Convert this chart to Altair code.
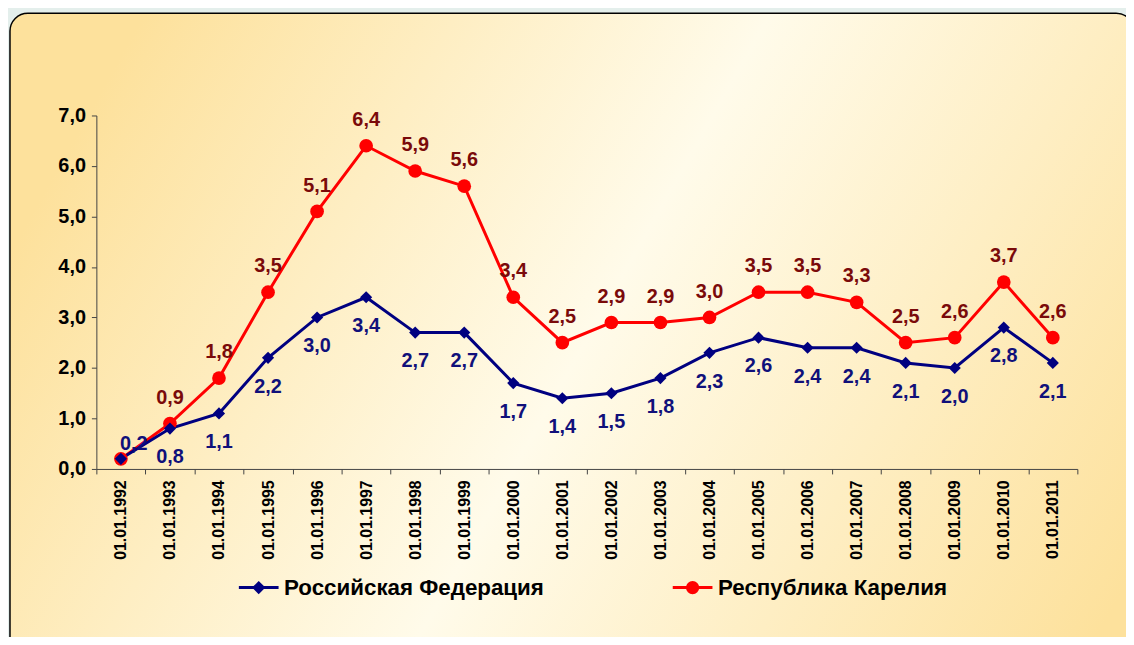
import altair as alt
import pandas as pd

years = ["01.01.1992", "01.01.1993", "01.01.1994", "01.01.1995", "01.01.1996",
         "01.01.1997", "01.01.1998", "01.01.1999", "01.01.2000", "01.01.2001",
         "01.01.2002", "01.01.2003", "01.01.2004", "01.01.2005", "01.01.2006",
         "01.01.2007", "01.01.2008", "01.01.2009", "01.01.2010", "01.01.2011"]
rf_values = [0.2, 0.8, 1.1, 2.2, 3.0, 3.4, 2.7, 2.7, 1.7, 1.4,
             1.5, 1.8, 2.3, 2.6, 2.4, 2.4, 2.1, 2.0, 2.8, 2.1]
karelia_values = [0.2, 0.9, 1.8, 3.5, 5.1, 6.4, 5.9, 5.6, 3.4, 2.5,
                  2.9, 2.9, 3.0, 3.5, 3.5, 3.3, 2.5, 2.6, 3.7, 2.6]
series_names = ["Российская Федерация", "Республика Карелия"]
y_ticks = [0, 1, 2, 3, 4, 5, 6, 7]

NAVY = "#000080"
RED = "#ff0000"
NAVY_TXT = "#10107a"
RED_TXT = "#7a0a0a"
FONT = "Liberation Sans"

rf_df = pd.DataFrame({"date": years, "value": rf_values})
ka_df = pd.DataFrame({"date": years, "value": karelia_values})
leg_df = pd.DataFrame({"series": series_names})

x_enc = alt.X("date:N", sort=years,
              scale=alt.Scale(type="band", paddingInner=0, paddingOuter=0),
              axis=alt.Axis(title=None, labelAngle=-90, labelAlign="right", labelBaseline="middle",
                            labelFont=FONT, labelFontSize=16, labelFontWeight="bold", labelColor="black",
                            tickBand="extent", tickSize=5, tickColor="#444444", domainColor="#444444",
                            labelPadding=6, grid=False, zindex=1))
y_enc = alt.Y("value:Q",
              scale=alt.Scale(domain=[0, 7], nice=False, zero=True),
              axis=alt.Axis(title=None, values=y_ticks, grid=False, tickSize=5,
                            labelExpr="replace(format(datum.value, '.1f'), '.', ',')",
                            labelFont=FONT, labelFontSize=20, labelFontWeight="bold", labelColor="black",
                            labelPadding=6, tickColor="#444444", domainColor="#444444", zindex=1))

label_expr = "replace(format(datum.value, '.1f'), '.', ',')"

panel = alt.Chart(alt.Data(values=[{"a": 1}])).mark_rect(
    cornerRadius=18, stroke="black", strokeWidth=1.5,
    fill=alt.LinearGradient(gradient="linear",
                            stops=[alt.GradientStop(color="#fde19c", offset=0),
                                   alt.GradientStop(color="#fffbea", offset=0.48),
                                   alt.GradientStop(color="#fde19c", offset=1)],
                            x1=0, y1=0.3, x2=1, y2=0.7)
).encode(x=alt.value(-87), y=alt.value(-103), x2=alt.value(1045), y2=alt.value(700))

ka_line = alt.Chart(ka_df).mark_line(color=RED, strokeWidth=3).encode(x=x_enc, y=y_enc)
rf_line = alt.Chart(rf_df).mark_line(color=NAVY, strokeWidth=3).encode(x=x_enc, y=y_enc)
rf_pts = alt.Chart(rf_df).mark_point(shape="diamond", filled=True, color=NAVY, size=150, opacity=1).encode(x=x_enc, y=y_enc)
ka_pts = alt.Chart(ka_df).mark_point(shape="circle", filled=True, color=RED, size=190, opacity=1).encode(x=x_enc, y=y_enc)

text_style = dict(font=FONT, fontSize=20, fontWeight="bold", baseline="middle", align="center")
ka_txt = alt.Chart(ka_df).transform_filter(alt.datum.date != years[0]).transform_calculate(
    lbl=label_expr).mark_text(color=RED_TXT, dy=-26, **text_style).encode(x=x_enc, y=y_enc, text="lbl:N")
rf_txt = alt.Chart(rf_df).transform_filter(alt.datum.date != years[0]).transform_calculate(
    lbl=label_expr).mark_text(color=NAVY_TXT, dy=29, **text_style).encode(x=x_enc, y=y_enc, text="lbl:N")
rf_txt0 = alt.Chart(rf_df).transform_filter(alt.datum.date == years[0]).transform_calculate(
    lbl=label_expr).mark_text(color=NAVY_TXT, dy=-15, dx=13, **text_style).encode(x=x_enc, y=y_enc, text="lbl:N")

diamond_path = "M-1,0H1M0,-0.23L0.23,0L0,0.23L-0.23,0Z"
circle_path = "M-1,0H1M-0.26,0A0.26,0.26,0,1,1,0.26,0A0.26,0.26,0,1,1,-0.26,0Z"
leg = alt.Legend(orient="none", legendX=142, legendY=454, direction="horizontal", title=None,
                 symbolSize=1600, symbolStrokeWidth=3, symbolOpacity=1, labelFont=FONT, labelFontSize=22.5,
                 labelFontWeight="bold", labelColor="black", labelOffset=4, columnPadding=123,
                 labelLimit=400, padding=0)
legend_layer = alt.Chart(leg_df).transform_filter("false").mark_point(filled=True, opacity=1).encode(
    fill=alt.Fill("series:N", scale=alt.Scale(domain=series_names, range=[NAVY, RED]), legend=leg),
    stroke=alt.Stroke("series:N", scale=alt.Scale(domain=series_names, range=[NAVY, RED]), legend=leg),
    shape=alt.Shape("series:N", scale=alt.Scale(domain=series_names, range=[diamond_path, circle_path]), legend=leg),
)

chart = alt.layer(panel, ka_line, rf_line, ka_pts, rf_pts, ka_txt, rf_txt, rf_txt0, legend_layer).properties(
    width=988, height=356,
    padding={"left": 89, "top": 106, "right": 49, "bottom": 167},
    autosize=alt.AutoSizeParams(type="none"),
    background="#e4efec",
).configure_view(stroke=None)

chart.save("out.html", embed_options={"renderer": "svg", "actions": False})
